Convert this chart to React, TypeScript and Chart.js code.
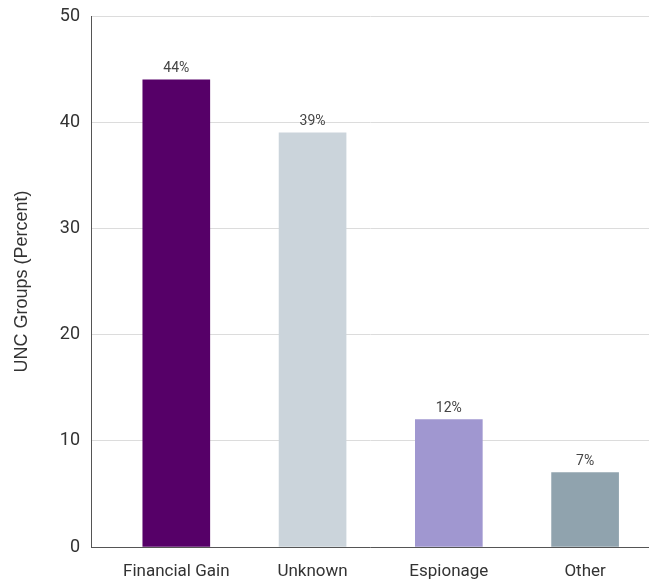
import React, { useEffect, useRef } from "react";
import { Chart, registerables } from "chart.js";

Chart.register(...registerables);

const categories = ["Financial Gain", "Unknown", "Espionage", "Other"];
const values = [44, 39, 12, 7];
const barColors = ["#560068", "#cbd4db", "#a097d0", "#90a3ae"];
const yTicks = [0, 10, 20, 30, 40, 50];

const FONT = "Roboto, 'DejaVu Sans', sans-serif";
const TITLE_FONT = "'Liberation Sans', Arial, sans-serif";

export default function App() {
  const ref = useRef<HTMLCanvasElement | null>(null);

  useEffect(() => {
    document.body.style.margin = "0";
    const canvas = ref.current;
    if (!canvas) return;

    const labelPlugin = {
      id: "barLabels",
      afterDatasetsDraw(chart: any) {
        const ctx = chart.ctx;
        const meta = chart.getDatasetMeta(0);
        ctx.save();
        ctx.font = `14px ${FONT}`;
        ctx.fillStyle = "#444";
        ctx.textAlign = "center";
        ctx.textBaseline = "alphabetic";
        meta.data.forEach((bar: any, i: number) => {
          ctx.fillText(values[i] + "%", bar.x, bar.y - 8);
        });
        ctx.restore();
      },
    };

    const chart = new Chart(canvas, {
      type: "bar",
      data: {
        datasets: [
          {
            data: values.map((v, i) => ({ x: i, y: v })),
            backgroundColor: barColors,
            barThickness: 67,
          },
        ],
      },
      options: {
        animation: false,
        responsive: false,
        layout: { padding: { top: 16, right: 0, left: 0, bottom: 0 } },
        plugins: { legend: { display: false }, tooltip: { enabled: false } },
        scales: {
          x: {
            type: "linear",
            offset: false,
            min: -0.626,
            max: 3.469,
            grid: { display: false, drawTicks: false, offset: false },
            border: { display: true, color: "#555", width: 1 },
            afterBuildTicks: (scale: any) => {
              scale.ticks = categories.map((_, i) => ({ value: i }));
            },
            afterFit: (scale: any) => {
              scale.height = 34;
              scale.paddingLeft = 0;
              scale.paddingRight = 0;
            },
            ticks: {
              autoSkip: false,
              maxRotation: 0,
              padding: 15,
              color: "#333",
              font: { family: FONT, size: 17 },
              callback: (v: any) => categories[v as number] ?? "",
            },
          },
          y: {
            min: 0,
            max: 50,
            afterBuildTicks: (scale: any) => {
              scale.ticks = yTicks.map((v) => ({ value: v }));
            },
            afterFit: (scale: any) => {
              scale.width = 91;
              scale.paddingTop = 0;
              scale.paddingBottom = 0;
            },
            grid: { color: "#dcdcdc", drawTicks: false },
            border: { display: true, color: "#555", width: 1 },
            ticks: {
              padding: 11,
              color: "#333",
              font: { family: FONT, size: 18 },
            },
            title: {
              display: true,
              text: "UNC Groups (Percent)",
              color: "#333",
              font: { family: TITLE_FONT, size: 18 },
              padding: { top: 11, bottom: 0 },
            },
          },
        },
      },
      plugins: [labelPlugin],
    });

    return () => chart.destroy();
  }, []);

  return <canvas ref={ref} width={649} height={581} style={{ display: "block" }} />;
}
